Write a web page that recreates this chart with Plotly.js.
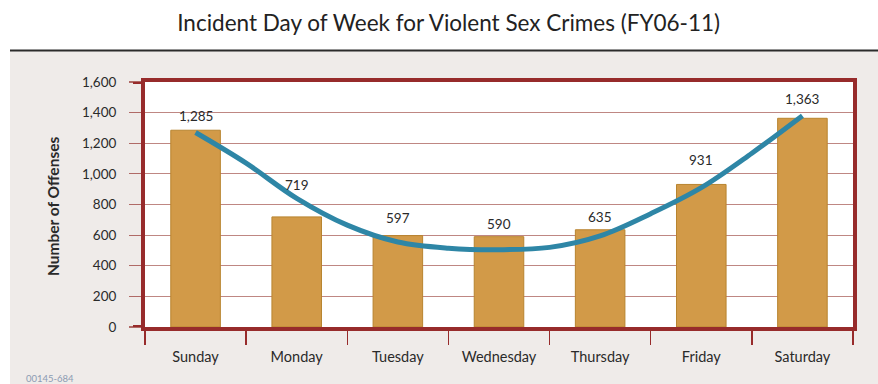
<!DOCTYPE html>
<html>
<head>
<meta charset="utf-8">
<script src="https://cdn.plot.ly/plotly-3.0.1.min.js"></script>
<style>html,body{margin:0;padding:0;background:#fff;}#chart{width:878px;height:384px;}</style>
</head>
<body>
<div id="chart"></div>
<script>
// ---- data ----
var days = ["Sunday", "Monday", "Tuesday", "Wednesday", "Thursday", "Friday", "Saturday"];
var offenses = [1285, 719, 597, 590, 635, 931, 1363];
// trend curve (x in category units, 0 = Sunday)
var trendX = [0, 0.5, 1, 1.5, 2, 2.5, 3, 3.5, 4, 4.5, 5, 5.5, 6];
var trendY = [1270, 1070, 840, 665, 555, 515, 505, 520, 595, 740, 910, 1135, 1380];
var yTickVals = [0, 200, 400, 600, 800, 1000, 1200, 1400, 1600];

// ---- style ----
var labelShift = [14, 32, 18, 13, 13, 24, 19];
var frame = '#972b2b';
var font = 'Lato, "Open Sans", sans-serif';
var W = 878, H = 384, L = 145, R = 25, T = 82, B = 57;
var pw = W - L - R, ph = H - T - B;
function px(p){ return (p - L) / pw; }
function py(p){ return (H - B - p) / ph; }

var bars = {
  type: 'bar', x: days, y: offenses, width: 0.49,
  marker: {color: '#d29a48', line: {color: '#b8842f', width: 1}},
  hoverinfo: 'x+y'
};
var trend = {
  type: 'scatter', mode: 'lines', x: trendX, y: trendY, xaxis: 'x2', yaxis: 'y',
  line: {color: '#2e86a6', width: 5, shape: 'spline', smoothing: 1}, hoverinfo: 'skip'
};

var annotations = days.map(function(d, i){
  return {x: d, y: offenses[i], xref: 'x', yref: 'y', yshift: labelShift[i],
    text: offenses[i].toLocaleString('en-US'), showarrow: false, yanchor: 'middle',
    font: {family: font, size: 13.5, color: '#2a2a2a'}};
});
annotations.push({xref: 'paper', yref: 'paper', x: px(42), y: py(207), textangle: -90,
  text: '<b>Number of Offenses</b>', showarrow: false,
  font: {family: font, size: 15.5, color: '#2a2a2a'}});
annotations.push({xref: 'paper', yref: 'paper', x: px(24), y: py(378), xanchor: 'left', yanchor: 'middle',
  text: '00145-684', showarrow: false, font: {family: font, size: 9.5, color: '#8c9bb3'}});

var shapes = [
  {type: 'rect', xref: 'paper', yref: 'paper', x0: px(10), x1: px(W), y0: py(H), y1: py(51),
   fillcolor: '#efebe9', line: {width: 0}, layer: 'below'},
  {type: 'rect', xref: 'paper', yref: 'paper', x0: 0, x1: 1, y0: 0, y1: 1,
   fillcolor: '#ffffff', line: {width: 0}, layer: 'below'},
  {type: 'line', xref: 'paper', yref: 'paper', x0: px(10), x1: px(W), y0: py(50.5), y1: py(50.5),
   line: {color: '#2b2b2b', width: 2.2}},
  {type: 'line', xref: 'paper', yref: 'y', x0: px(133), x1: 0, y0: 0, y1: 0,
   line: {color: frame, width: 4}},
  {type: 'line', xref: 'paper', yref: 'y', x0: px(133), x1: 0, y0: 1600, y1: 1600,
   line: {color: frame, width: 4}}
];

var layout = {
  width: W, height: H,
  margin: {l: L, r: R, t: T, b: B},
  paper_bgcolor: '#ffffff', plot_bgcolor: '#ffffff',
  showlegend: false,
  title: {text: 'Incident Day of Week for Violent Sex Crimes (FY06-11)',
    x: 0.511, xref: 'container', xanchor: 'center', y: 1 - 23 / H, yref: 'container', yanchor: 'middle',
    font: {family: font, size: 22.5, color: '#222', weight: 'normal'}},
  xaxis: {type: 'category', tickson: 'boundaries', ticks: 'outside', ticklen: 14, tickwidth: 1.5,
    tickcolor: frame, showline: true, linecolor: frame, linewidth: 4, mirror: true,
    showgrid: false, ticklabelstandoff: 14,
    tickfont: {family: font, size: 14.5, color: '#2a2a2a'}, range: [-0.5, 6.5]},
  xaxis2: {overlaying: 'x', range: [-0.5, 6.5], visible: false, type: 'linear'},
  yaxis: {range: [0, 1600], tickvals: yTickVals, tickformat: ',d', ticks: 'outside', ticklen: 12,
    tickwidth: 1.2, tickcolor: '#b06a66', showline: true, linecolor: frame, linewidth: 4, mirror: true,
    showgrid: true, gridcolor: '#bf8783', gridwidth: 1, zeroline: false, ticklabelstandoff: 10,
    tickfont: {family: font, size: 13.5, color: '#2a2a2a'}},
  annotations: annotations,
  shapes: shapes,
  bargap: 0.5
};

Plotly.newPlot('chart', [bars, trend], layout, {displayModeBar: false, staticPlot: true});
</script>
</body>
</html>
